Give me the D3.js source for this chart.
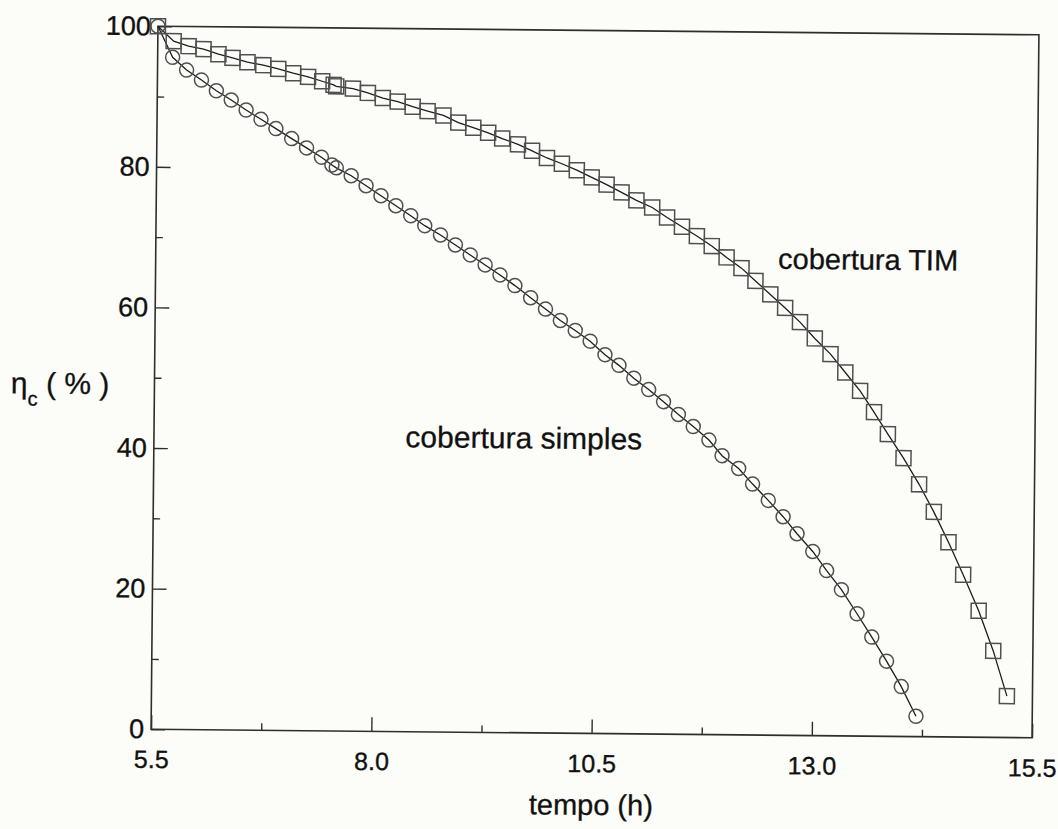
<!DOCTYPE html>
<html><head><meta charset="utf-8">
<script src="https://cdn.jsdelivr.net/npm/d3@7"></script>
<style>
html,body{margin:0;padding:0;background:#fcfcf8;}
svg{display:block;}
text{font-family:"Liberation Sans", Arial, sans-serif;}
</style></head><body>
<svg id="chart" width="1058" height="829"></svg>
<script>
// ---- data ----
const timTime = [5.5, 5.68, 5.85, 6.02, 6.19, 6.35, 6.52, 6.70, 6.87, 7.04, 7.21, 7.37, 7.50, 7.53, 7.72, 7.89, 8.06, 8.23, 8.40, 8.57, 8.75, 8.92, 9.09, 9.26, 9.42, 9.60, 9.76, 9.93, 10.10, 10.27, 10.44, 10.61, 10.78, 10.95, 11.13, 11.30, 11.47, 11.64, 11.81, 11.98, 12.15, 12.31, 12.48, 12.65, 12.82, 12.99, 13.17, 13.34, 13.51, 13.67, 13.83, 14.01, 14.19, 14.36, 14.53, 14.70, 14.88, 15.05, 15.21];
const timEta = [100, 97.9, 97.2, 96.8, 96.1, 95.6, 95.0, 94.6, 94.1, 93.5, 93.0, 92.4, 91.9, 91.7, 91.4, 90.8, 90.1, 89.6, 88.9, 88.3, 87.7, 86.7, 86.0, 85.3, 84.5, 83.7, 82.8, 81.8, 81.0, 80.1, 79.1, 78.1, 77.0, 75.9, 74.9, 73.5, 72.2, 70.9, 69.5, 67.9, 66.4, 64.6, 62.7, 60.8, 58.8, 56.5, 54.3, 51.7, 49.1, 46.1, 43.0, 39.6, 35.9, 32.0, 27.7, 23.1, 18.0, 12.3, 5.9];
const simTime = [5.5, 5.67, 5.83, 6.00, 6.17, 6.34, 6.51, 6.68, 6.85, 7.03, 7.20, 7.37, 7.49, 7.54, 7.71, 7.88, 8.05, 8.22, 8.39, 8.55, 8.73, 8.90, 9.07, 9.24, 9.41, 9.58, 9.76, 9.93, 10.10, 10.27, 10.44, 10.61, 10.77, 10.94, 11.11, 11.28, 11.45, 11.62, 11.80, 11.95, 12.14, 12.30, 12.48, 12.65, 12.81, 12.99, 13.15, 13.32, 13.50, 13.67, 13.84, 14.01, 14.18];
const simEta = [100, 95.6, 93.8, 92.4, 90.9, 89.6, 88.2, 86.9, 85.6, 84.2, 82.9, 81.6, 80.5, 80.1, 79.0, 77.6, 76.2, 74.8, 73.4, 72.0, 70.7, 69.3, 67.9, 66.5, 65.1, 63.6, 61.9, 60.3, 58.7, 57.3, 55.8, 53.9, 52.4, 50.6, 49.0, 47.3, 45.5, 43.8, 41.9, 39.7, 37.9, 35.7, 33.4, 31.1, 28.7, 26.2, 23.5, 20.8, 17.4, 14.1, 10.7, 7.1, 2.9];
const xMajorTicks = [5.5, 8.0, 10.5, 13.0, 15.5];
const xMinorTicks = [6.75, 9.25, 11.75, 14.25];
const yMajorTicks = [0, 20, 40, 60, 80, 100];
const yMinorTicks = [10, 30, 50, 70, 90];
const xTitle = "tempo (h)";
const yTitleMain = "η", yTitleSub = "c", yTitleRest = " ( % )";
const labelTIM = "cobertura TIM";
const labelSimples = "cobertura simples";

// ---- layout ----
const W = 1058, H = 829;
const L = 154.5, R = 1035.5, T = 30.5, B = 733.5;
const x = d3.scaleLinear().domain([5.5, 15.5]).range([L, R]);
const y = d3.scaleLinear().domain([0, 100]).range([B, T]);
const INK = "#2e2e2e", TXT = "#111";

const svg = d3.select("#chart");
svg.append("rect").attr("width", W).attr("height", H).attr("fill", "#fcfcf8");
const g = svg.append("g").attr("transform", `rotate(0.56, ${(L + R) / 2}, ${(T + B) / 2})`);

// frame
g.append("rect").attr("x", L).attr("y", T).attr("width", R - L).attr("height", B - T)
  .attr("fill", "none").attr("stroke", INK).attr("stroke-width", 1.6);

// x axis (ticks pointing inward)
const gx = g.append("g").attr("transform", `translate(0,${B})`)
  .call(d3.axisBottom(x).tickValues(xMajorTicks).tickFormat(d3.format(".1f")).tickSizeInner(-14).tickSizeOuter(0));
gx.attr("font-family", null).attr("font-size", null).attr("color", INK);
gx.select(".domain").remove();
gx.selectAll(".tick line").attr("stroke-width", 1.4);
gx.selectAll(".tick text").attr("y", 21).attr("dy", "0.71em").attr("font-size", 25)
  .attr("fill", TXT).attr("stroke", TXT).attr("stroke-width", 0.35);
const gxm = g.append("g").attr("transform", `translate(0,${B})`)
  .call(d3.axisBottom(x).tickValues(xMinorTicks).tickFormat("").tickSizeInner(-7).tickSizeOuter(0));
gxm.attr("color", INK); gxm.select(".domain").remove();
gxm.selectAll(".tick line").attr("stroke-width", 1.4);

// y axis
const gy = g.append("g").attr("transform", `translate(${L},0)`)
  .call(d3.axisLeft(y).tickValues(yMajorTicks).tickFormat(d3.format("d")).tickSizeInner(-14).tickSizeOuter(0));
gy.attr("font-family", null).attr("font-size", null).attr("color", INK);
gy.select(".domain").remove();
gy.selectAll(".tick line").attr("stroke-width", 1.4);
gy.selectAll(".tick text").attr("x", -7).attr("font-size", 27)
  .attr("fill", TXT).attr("stroke", TXT).attr("stroke-width", 0.35);
const gym = g.append("g").attr("transform", `translate(${L},0)`)
  .call(d3.axisLeft(y).tickValues(yMinorTicks).tickFormat("").tickSizeInner(-7).tickSizeOuter(0));
gym.attr("color", INK); gym.select(".domain").remove();
gym.selectAll(".tick line").attr("stroke-width", 1.4);

// titles
g.append("text").attr("x", 595).attr("y", 815).attr("text-anchor", "middle")
  .attr("font-size", 29).attr("fill", TXT).attr("stroke", TXT).attr("stroke-width", 0.3).text(xTitle);
const yt = g.append("text").attr("x", 11).attr("y", 399).attr("font-size", 30)
  .attr("fill", TXT).attr("stroke", TXT).attr("stroke-width", 0.3);
yt.append("tspan").text(yTitleMain);
yt.append("tspan").attr("font-size", 20).attr("dy", 12).text(yTitleSub);
yt.append("tspan").attr("dy", -12).text(yTitleRest);

// series
const tim = timTime.map((t, i) => ({ t, v: timEta[i] }));
const sim = simTime.map((t, i) => ({ t, v: simEta[i] }));
const line = d3.line().x(d => x(d.t)).y(d => y(d.v));
g.append("path").datum(tim).attr("d", line).attr("fill", "none").attr("stroke", "#1e1e1e").attr("stroke-width", 1.3);
g.append("path").datum(sim).attr("d", line).attr("fill", "none").attr("stroke", "#1e1e1e").attr("stroke-width", 1.3);

const S = 15;
g.append("g").selectAll("rect").data(tim).join("rect")
  .attr("x", d => x(d.t) - S / 2).attr("y", d => y(d.v) - S / 2)
  .attr("width", S).attr("height", S)
  .attr("fill", "none").attr("stroke", "#505050").attr("stroke-width", 1.5);
g.append("g").selectAll("circle").data(sim).join("circle")
  .attr("cx", d => x(d.t)).attr("cy", d => y(d.v)).attr("r", 7)
  .attr("fill", "none").attr("stroke", "#505050").attr("stroke-width", 1.5);

// annotations
g.append("text").attr("x", 777).attr("y", 267).attr("font-size", 29)
  .attr("fill", TXT).attr("stroke", TXT).attr("stroke-width", 0.3).text(labelTIM);
g.append("text").attr("x", 406).attr("y", 449).attr("font-size", 30)
  .attr("fill", TXT).attr("stroke", TXT).attr("stroke-width", 0.3).text(labelSimples);
</script>
</body></html>
